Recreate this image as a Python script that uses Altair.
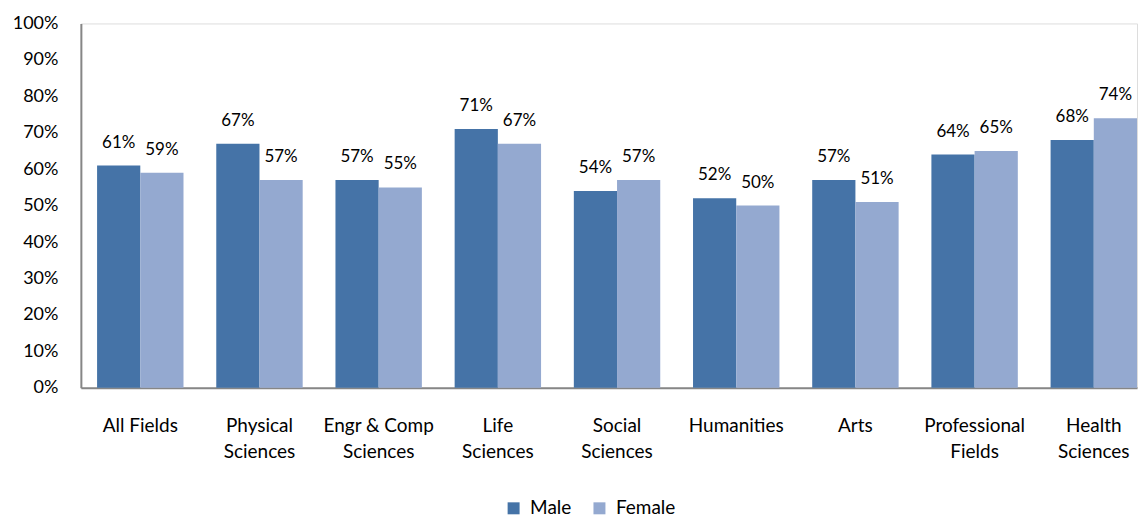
import altair as alt
import pandas as pd

categories = ["All Fields", "Physical Sciences", "Engr & Comp Sciences", "Life Sciences",
              "Social Sciences", "Humanities", "Arts", "Professional Fields", "Health Sciences"]
male = [61, 67, 57, 71, 54, 52, 57, 64, 68]
female = [59, 57, 55, 67, 57, 50, 51, 65, 74]
series = ["Male", "Female"]
colors = ["#4573a7", "#94a9d0"]
y_ticks = [0, 10, 20, 30, 40, 50, 60, 70, 80, 90, 100]

label_lines = {
    "All Fields": ["All Fields"],
    "Physical Sciences": ["Physical", "Sciences"],
    "Engr & Comp Sciences": ["Engr & Comp", "Sciences"],
    "Life Sciences": ["Life", "Sciences"],
    "Social Sciences": ["Social", "Sciences"],
    "Humanities": ["Humanities"],
    "Arts": ["Arts"],
    "Professional Fields": ["Professional", "Fields"],
    "Health Sciences": ["Health", "Sciences"],
}

rows = []
for i, c in enumerate(categories):
    rows.append({"field": c, "sex": "Male", "value": male[i]})
    rows.append({"field": c, "sex": "Female", "value": female[i]})
df = pd.DataFrame(rows)

expr = "datum.value"
for k, v in reversed(list(label_lines.items())):
    arr = "[" + ",".join("'" + s + "'" for s in v) + "]"
    expr = f"datum.value == '{k}' ? {arr} : ({expr})"

FONT = "Lato"

x = alt.X("field:N", sort=categories, title=None,
          scale=alt.Scale(paddingInner=0.275, paddingOuter=0.068, align=1),
          axis=alt.Axis(labelAngle=0, ticks=False, labelPadding=29, labelLineHeight=26,
                        labelExpr=expr, domainColor="#868686", domainWidth=2,
                        labelFontSize=19, labelColor="#000", labelFont=FONT,
                        labelOverlap=False, labelBound=False))
y = alt.Y("value:Q", title=None,
          scale=alt.Scale(domain=[0, 100], nice=False),
          axis=alt.Axis(values=y_ticks, labelExpr="datum.value + '%'",
                        ticks=False, grid=False, labelPadding=23, domainColor="#868686",
                        domainWidth=2, labelFontSize=18, labelColor="#000", labelFont=FONT,
                        labelOverlap=False, labelFlush=False, labelSeparation=0))

base = alt.Chart(df).encode(
    x=x,
    y=y,
    xOffset=alt.XOffset("sex:N", sort=series, scale=alt.Scale(paddingInner=0, paddingOuter=0)),
)

bars = base.mark_bar().encode(
    color=alt.Color("sex:N", sort=series, scale=alt.Scale(domain=series, range=colors),
                    legend=alt.Legend(title=None, orient="none", direction="horizontal",
                                      legendX=424, legendY=476, symbolType="square",
                                      symbolSize=144, symbolStrokeWidth=0, labelOffset=7,
                                      labelFontSize=19, labelFont=FONT, labelColor="#000",
                                      columnPadding=18, symbolOpacity=1)),
)

texts = base.mark_text(baseline="bottom", dy=-14, fontSize=17, font=FONT, color="#000").encode(
    text=alt.Text("label:N"),
).transform_calculate(label="datum.value + '%'")

chart = alt.layer(bars, texts).properties(
    width=1058, height=365,
    padding={"left": 4, "top": 6, "right": 0, "bottom": 0},
).configure_view(stroke=None).configure(background="white").configure_axisY(
    labelOverlap=False
)

chart.save("out.html", embed_options={"renderer": "svg", "actions": False})
